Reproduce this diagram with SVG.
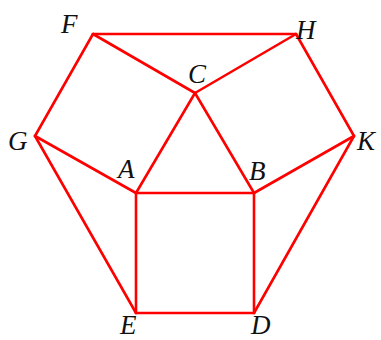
<svg xmlns="http://www.w3.org/2000/svg" width="381" height="340" viewBox="0 0 381 340">
<style>
.e{stroke:#ff0000;stroke-width:2.6;fill:none;stroke-linejoin:round;stroke-linecap:round}
.l{font-family:"Liberation Serif","Times New Roman",serif;font-style:italic;font-size:27px;fill:#111}
</style>
<rect width="381" height="340" fill="#fff"/>
<g id="connectors">
<line class="e" x1="93" y1="34" x2="296" y2="34"/>
<line class="e" x1="93" y1="34" x2="195" y2="93"/>
<line class="e" x1="296" y1="34" x2="195" y2="93"/>
<line class="e" x1="93" y1="34" x2="35" y2="136"/>
<line class="e" x1="296" y1="34" x2="354" y2="136"/>
<line class="e" x1="195" y1="93" x2="136" y2="193"/>
<line class="e" x1="195" y1="93" x2="254" y2="193"/>
<line class="e" x1="35" y1="136" x2="136" y2="193"/>
<line class="e" x1="354" y1="136" x2="254" y2="193"/>
<line class="e" x1="136" y1="193" x2="254" y2="193"/>
<line class="e" x1="136" y1="193" x2="136" y2="313"/>
<line class="e" x1="254" y1="193" x2="254" y2="313"/>
<line class="e" x1="136" y1="313" x2="254" y2="313"/>
<line class="e" x1="35" y1="136" x2="136" y2="313"/>
<line class="e" x1="354" y1="136" x2="254" y2="313"/>
</g>
<g id="F"><text class="l" x="61" y="33">F</text></g>
<g id="H"><text class="l" x="296" y="39">H</text></g>
<g id="C"><text class="l" x="188" y="83">C</text></g>
<g id="G"><text class="l" x="8" y="150">G</text></g>
<g id="K"><text class="l" x="357" y="150">K</text></g>
<g id="A"><text class="l" x="118" y="178">A</text></g>
<g id="B"><text class="l" x="249" y="180">B</text></g>
<g id="E"><text class="l" x="120" y="334">E</text></g>
<g id="D"><text class="l" x="251" y="334">D</text></g>
</svg>
